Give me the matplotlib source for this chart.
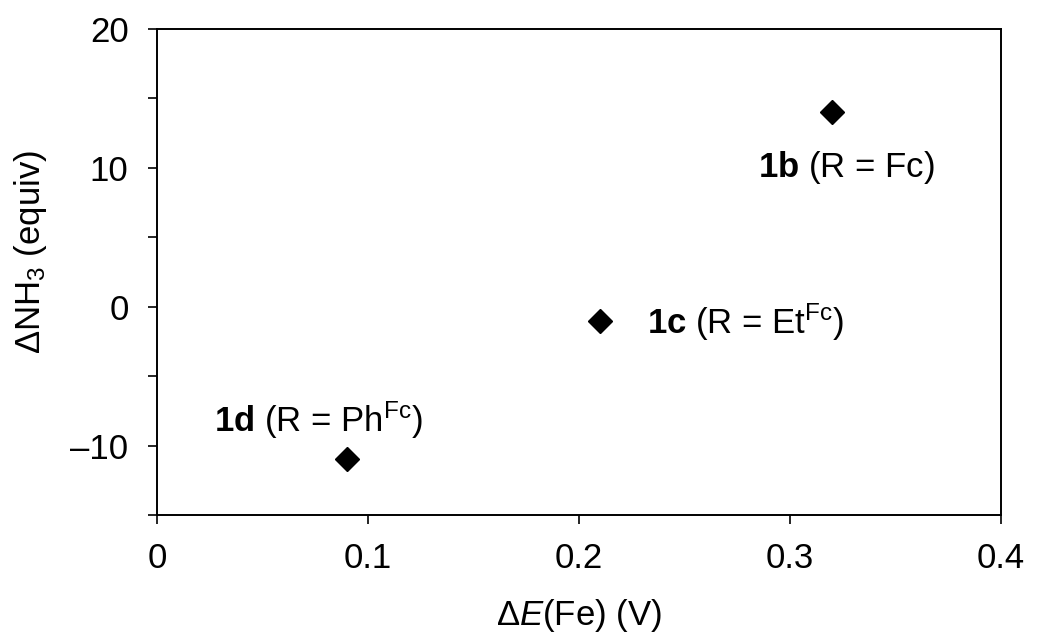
import matplotlib
matplotlib.use("Agg")
import matplotlib.pyplot as plt
from matplotlib.ticker import MultipleLocator

plt.rcParams['font.family'] = ['Liberation Sans', 'DejaVu Sans']
plt.rcParams['mathtext.fontset'] = 'custom'
plt.rcParams['mathtext.rm'] = 'Liberation Sans'
plt.rcParams['mathtext.it'] = 'Liberation Sans:italic'
plt.rcParams['mathtext.bf'] = 'Liberation Sans:bold'

# data
delta_e = [0.32, 0.21, 0.09]
delta_nh3 = [14, -1, -11]
labels = [r"$\mathbf{1b}$ (R = Fc)",
          r"$\mathbf{1c}$ (R = Et$^{\mathrm{Fc}}$)",
          r"$\mathbf{1d}$ (R = Ph$^{\mathrm{Fc}}$)"]
label_pos = [(0.3265, 10.0), (0.232, -1.1), (0.0765, -8.2)]
label_ha = ['center', 'left', 'center']

fs = 25

fig = plt.figure(figsize=(10.39, 6.39), dpi=100)
ax = fig.add_axes([157 / 1039, 1 - 515 / 639, (1001 - 157) / 1039, (515 - 29) / 639])

ax.plot(delta_e, delta_nh3, 'D', color='black', markersize=12.5, linestyle='none')

for txt, (x, y), ha in zip(labels, label_pos, label_ha):
    ax.text(x, y, txt, fontsize=fs, ha=ha, va='center')

ax.set_xlim(0, 0.4)
ax.set_ylim(-15, 20)
ax.yaxis.set_minor_locator(MultipleLocator(5))
ax.set_xticks([0, 0.1, 0.2, 0.3, 0.4])
ax.set_xticklabels(['0', '0.1', '0.2', '0.3', '0.4'])
ax.set_yticks([20, 10, 0, -10])
ax.set_yticklabels(['20', '10', '0', '\u201310'])
ax.tick_params(axis='both', which='major', direction='out', length=6.5, width=1.2, labelsize=fs)
ax.tick_params(axis='x', which='major', pad=13)
ax.tick_params(axis='y', which='major', pad=14)
ax.tick_params(axis='y', which='minor', direction='out', length=6.5, width=1.2)
for sp in ax.spines.values():
    sp.set_linewidth(1.4)

ax.set_xlabel(r"$\Delta E$(Fe) (V)", fontsize=fs, labelpad=16)
ax.set_ylabel(r"$\Delta$NH$_3$ (equiv)", fontsize=fs)
ax.yaxis.set_label_coords(-0.150, 0.541)
ax.yaxis.label.set_va('center')

fig.savefig("out.png", dpi=100)
